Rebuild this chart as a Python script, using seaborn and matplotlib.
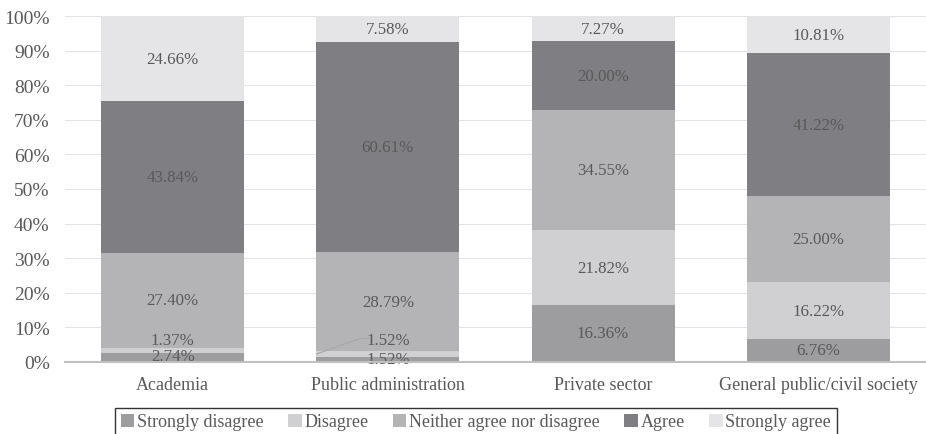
import numpy as np
import pandas as pd
import matplotlib
matplotlib.use("Agg")
import matplotlib.pyplot as plt
import seaborn as sns
from matplotlib.patches import Patch

categories = ["Academia", "Public administration", "Private sector", "General public/civil society"]
series_names = ["Strongly disagree", "Disagree", "Neither agree nor disagree", "Agree", "Strongly agree"]
strongly_disagree = [2.74, 1.52, 16.36, 6.76]
disagree = [1.37, 1.52, 21.82, 16.22]
neither = [27.40, 28.79, 34.55, 25.00]
agree = [43.84, 60.61, 20.00, 41.22]
strongly_agree = [24.66, 7.58, 7.27, 10.81]
yticks = [0, 10, 20, 30, 40, 50, 60, 70, 80, 90, 100]

colors = ["#9d9da0", "#d0d0d2", "#b4b4b7", "#7f7f83", "#e5e5e7"]
values = [strongly_disagree, disagree, neither, agree, strongly_agree]

sns.set_theme(style="white")
plt.rcParams['font.family'] = ['Liberation Serif', 'DejaVu Serif']

fig = plt.figure(figsize=(9.26, 4.35), dpi=100)
ax = fig.add_axes([65/926, 1-363/435, 861/926, 346/435])

cum = np.cumsum(np.array(values), axis=0)
for i in range(len(series_names) - 1, -1, -1):
    df = pd.DataFrame({"cat": categories, "val": cum[i]})
    sns.barplot(data=df, x="cat", y="val", color=colors[i], saturation=1,
                width=0.665, ax=ax, zorder=2, linewidth=0)

# labels
label_color = "#595959"
for j, cat in enumerate(categories):
    bottom = 0
    for i in range(len(series_names)):
        v = values[i][j]
        ypos = bottom + v / 2
        xpos = j
        if j == 0 and i == 0:
            ypos = 1.6
        if j == 0 and i == 1:
            ypos = 6.3
        if j == 1 and i == 0:
            ypos = 0.9
        if j == 1 and i == 1:
            ypos = 6.3
            ax.plot([j - 0.332, j - 0.13, j - 0.08], [2.3, 6.8, 6.8], color="#a6a6a6", lw=0.8, zorder=3)
        if j == 2 and i == 0:
            ypos = 8.3
        ax.text(xpos, ypos, f"{v:.2f}%", ha="center", va="center", fontsize=12.2,
                color=label_color, zorder=4)
        bottom += v

ax.set_ylim(0, 100)
ax.set_xlim(-0.5, 3.5)
ax.set_yticks(yticks)
ax.set_yticklabels([f"{t}%" for t in yticks], fontsize=14, color="#595959")
ax.tick_params(axis="x", labelsize=13, labelcolor="#595959", length=0, pad=10)
ax.tick_params(axis="y", length=0, pad=11)
ax.set_xlabel("")
ax.set_ylabel("")
ax.grid(axis="y", color="#e3e3e3", lw=0.8, zorder=0)
ax.set_axisbelow(True)
for s in ["top", "right", "left"]:
    ax.spines[s].set_visible(False)
ax.spines["bottom"].set_color("#bfbfbf")
ax.spines["bottom"].set_linewidth(1.5)
ax.spines["bottom"].set_zorder(5)

handles = [Patch(facecolor=c, edgecolor="none") for c in colors]
leg = fig.legend(handles, series_names, loc="upper center", bbox_to_anchor=(476/926, 1-409/435),
                 ncol=5, frameon=True, fancybox=False, fontsize=13, handlelength=0.75,
                 handleheight=0.75, handletextpad=0.15, columnspacing=1.35,
                 borderpad=0.3, borderaxespad=0, labelcolor="#595959")
leg.get_frame().set_edgecolor("#000000")
leg.get_frame().set_linewidth(1.0)

fig.savefig("out.png", dpi=100, facecolor="white")
